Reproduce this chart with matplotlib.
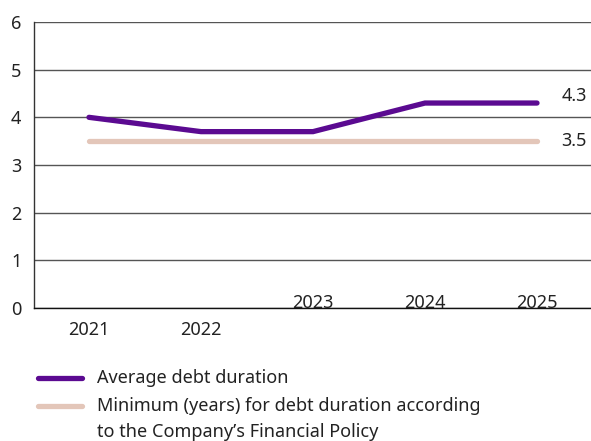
import matplotlib.pyplot as plt
from matplotlib.lines import Line2D

plt.rcParams['font.family'] = ['Noto Sans', 'DejaVu Sans']

years = ['2021', '2022', '2023', '2024', '2025']
avg_duration = [4.0, 3.7, 3.7, 4.3, 4.3]
min_duration = [3.5, 3.5, 3.5, 3.5, 3.5]
# vertical position of each year label (axes fraction), as staggered in the source
label_y = [-0.077, -0.077, 0.018, 0.018, 0.018]

purple = '#5b0a91'
beige = '#e3c6b9'
text_col = '#222222'

fig = plt.figure(figsize=(5.91, 4.41), dpi=100)
ax = fig.add_axes([0.0575, 0.3016, 0.9425, 0.6485])

x = list(range(len(years)))
ax.plot(x, min_duration, color=beige, lw=3.8, solid_capstyle='round', zorder=3)
ax.plot(x, avg_duration, color=purple, lw=3.8, solid_capstyle='round',
        solid_joinstyle='miter', zorder=4)

ax.set_xlim(-0.491, 4.482)
ax.set_ylim(0, 6)
ax.set_yticks(range(7))
ax.yaxis.grid(True, color='#555555', lw=1)
ax.set_axisbelow(True)
ax.tick_params(axis='y', length=0, pad=9, labelsize=13, labelcolor=text_col)
ax.set_xticks([])
for s in ['top', 'right']:
    ax.spines[s].set_visible(False)
ax.spines['left'].set_color('#333333')
ax.spines['bottom'].set_color('#111111')
ax.spines['left'].set_linewidth(1)
ax.spines['bottom'].set_linewidth(1)

for xi, yr, ly in zip(x, years, label_y):
    ax.text(xi, ly, yr, transform=ax.get_xaxis_transform(), ha='center',
            va='center', fontsize=13, color=text_col)

# end-of-line value labels
ax.text(4.22, avg_duration[-1] + 0.15, f'{avg_duration[-1]:.1f}', ha='left',
        va='center', fontsize=13, color=text_col)
ax.text(4.22, min_duration[-1], f'{min_duration[-1]:.1f}', ha='left',
        va='center', fontsize=13, color=text_col)

# legend drawn by hand so the swatch sits on the first text line
W, H = 591, 441
def fx(px):
    return px / W
def fy(py):
    return 1 - py / H

fig.add_artist(Line2D([fx(38), fx(82)], [fy(378), fy(378)], color=purple,
                      lw=3.8, solid_capstyle='round'))
fig.add_artist(Line2D([fx(38), fx(82)], [fy(406), fy(406)], color=beige,
                      lw=3.8, solid_capstyle='round'))
fig.text(fx(97), fy(378), 'Average debt duration', va='center',
         fontsize=13, color=text_col)
fig.text(fx(97), fy(406), 'Minimum (years) for debt duration according',
         va='center', fontsize=13, color=text_col)
fig.text(fx(97), fy(432), 'to the Company\u2019s Financial Policy',
         va='center', fontsize=13, color=text_col)

fig.savefig('out.png', dpi=100)
